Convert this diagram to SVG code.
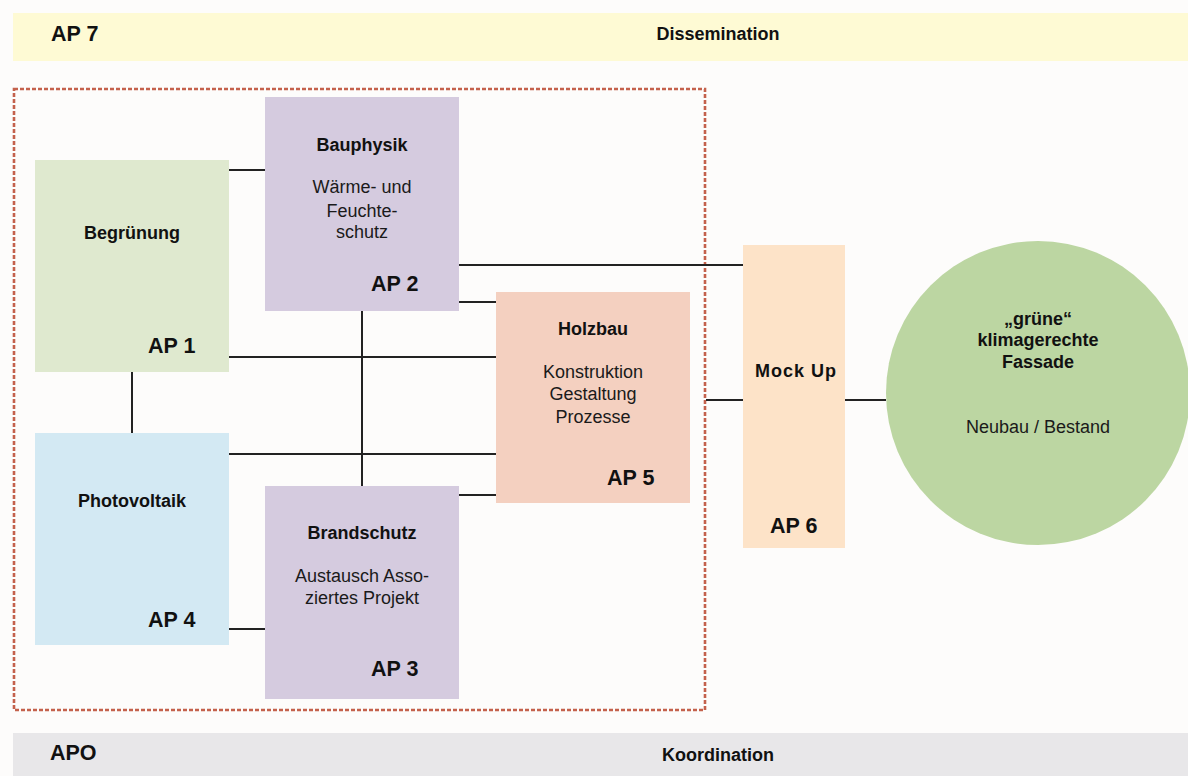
<svg xmlns="http://www.w3.org/2000/svg" width="1188" height="776" viewBox="0 0 1188 776">
  <style>
    text { font-family: "Liberation Sans", Arial, sans-serif; fill: #111; }
    .title { font-size: 18px; font-weight: bold; text-anchor: middle; }
    .sub { font-size: 18px; text-anchor: middle; fill: #1a1a1a; }
    .ap { font-size: 21.5px; font-weight: bold; }
    .band { font-size: 18px; font-weight: bold; text-anchor: middle; }
    .conn line { stroke: #222; stroke-width: 2; }
  </style>

  <!-- page background -->
  <rect x="0" y="0" width="1188" height="776" fill="#fdfcfb"/>

  <!-- AP 7: dissemination band -->
  <g id="ap7">
    <rect x="13" y="13" width="1175" height="48" fill="#fefad4"/>
    <text class="ap" x="51" y="41">AP 7</text>
    <text class="band" x="718" y="40">Dissemination</text>
  </g>

  <!-- APO: coordination band -->
  <g id="apo">
    <rect x="13" y="733" width="1175" height="43" fill="#e8e7e9"/>
    <text class="ap" x="50" y="760">APO</text>
    <text class="band" x="718" y="761">Koordination</text>
  </g>

  <!-- dashed frame around work packages 1–5 -->
  <g id="frame">
    <rect x="14" y="89" width="691" height="621" fill="none" stroke="#c4614c" stroke-width="2.6" stroke-dasharray="4 2"/>
  </g>

  <!-- connectors -->
  <g id="connectors" class="conn">
    <line x1="229" y1="170" x2="265" y2="170"/>
    <line x1="459" y1="265" x2="743" y2="265"/>
    <line x1="459" y1="302" x2="496" y2="302"/>
    <line x1="229" y1="357" x2="496" y2="357"/>
    <line x1="229" y1="454" x2="496" y2="454"/>
    <line x1="459" y1="495" x2="496" y2="495"/>
    <line x1="362" y1="311" x2="362" y2="486"/>
    <line x1="132" y1="372" x2="132" y2="433"/>
    <line x1="229" y1="629" x2="265" y2="629"/>
    <line x1="706" y1="400" x2="743" y2="400"/>
    <line x1="845" y1="400" x2="886" y2="400"/>
  </g>

  <!-- AP 1 -->
  <g id="begruenung">
    <rect x="35" y="160" width="194" height="212" fill="#dfe9cf"/>
    <text class="title" x="132" y="239">Begrünung</text>
    <text class="ap" x="148" y="353">AP 1</text>
  </g>

  <!-- AP 2 -->
  <g id="bauphysik">
    <rect x="265" y="97" width="194" height="214" fill="#d5cbdf"/>
    <text class="title" x="362" y="151">Bauphysik</text>
    <text class="sub" x="362" y="193">Wärme- und</text>
    <text class="sub" x="362" y="217">Feuchte-</text>
    <text class="sub" x="362" y="238">schutz</text>
    <text class="ap" x="371" y="291">AP 2</text>
  </g>

  <!-- AP 3 -->
  <g id="brandschutz">
    <rect x="265" y="486" width="194" height="213" fill="#d5cbdf"/>
    <text class="title" x="362" y="539">Brandschutz</text>
    <text class="sub" x="362" y="582">Austausch Asso-</text>
    <text class="sub" x="362" y="604">ziertes Projekt</text>
    <text class="ap" x="371" y="676">AP 3</text>
  </g>

  <!-- AP 4 -->
  <g id="photovoltaik">
    <rect x="35" y="433" width="194" height="212" fill="#d3e9f3"/>
    <text class="title" x="132" y="507">Photovoltaik</text>
    <text class="ap" x="148" y="627">AP 4</text>
  </g>

  <!-- AP 5 -->
  <g id="holzbau">
    <rect x="496" y="292" width="194" height="211" fill="#f4d0c0"/>
    <text class="title" x="593" y="335">Holzbau</text>
    <text class="sub" x="593" y="378">Konstruktion</text>
    <text class="sub" x="593" y="400">Gestaltung</text>
    <text class="sub" x="593" y="423">Prozesse</text>
    <text class="ap" x="607" y="485">AP 5</text>
  </g>

  <!-- AP 6 -->
  <g id="mockup">
    <rect x="743" y="245" width="102" height="303" fill="#fde3c8"/>
    <text class="title" x="796" y="377" letter-spacing="1">Mock Up</text>
    <text class="ap" x="770" y="533">AP 6</text>
  </g>

  <!-- goal: green climate-adapted facade -->
  <g id="fassade">
    <circle cx="1038" cy="393" r="152" fill="#bcd6a2"/>
    <text class="title" x="1038" y="325">„grüne“</text>
    <text class="title" x="1038" y="346">klimagerechte</text>
    <text class="title" x="1038" y="368">Fassade</text>
    <text class="sub" x="1038" y="433">Neubau / Bestand</text>
  </g>
</svg>
